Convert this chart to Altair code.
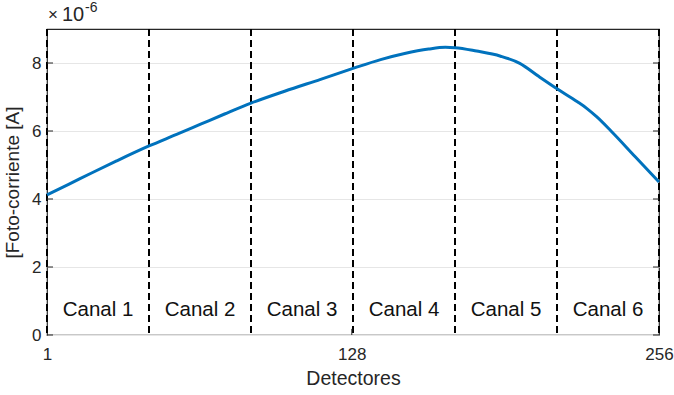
import altair as alt
import pandas as pd

# Photocurrent per detector (units of 1e-6 A)
detector = [1, 10, 20, 30, 43.5, 55, 65, 75, 86, 100, 115, 128.5, 140, 150, 160, 167,
            171, 180, 190, 198, 206, 214, 222, 226, 230, 236, 246, 256]
current = [4.12, 4.43, 4.78, 5.12, 5.56, 5.90, 6.20, 6.50, 6.82, 7.17, 7.52, 7.84, 8.10,
           8.28, 8.41, 8.46, 8.45, 8.35, 8.20, 7.99, 7.60, 7.22, 6.86, 6.66, 6.42, 6.00,
           5.25, 4.50]

# Channel boundaries and labels
boundaries = [1, 43.5, 86, 128.5, 171, 213.5, 256]
channels = ["Canal 1", "Canal 2", "Canal 3", "Canal 4", "Canal 5", "Canal 6"]
channel_centers = [(boundaries[i] + boundaries[i + 1]) / 2 for i in range(6)]
label_level = 0.75

x_ticks = [1, 128, 256]
y_ticks = [0, 2, 4, 6, 8]

FONT = "Liberation Sans"
TXT = "#262626"

curve_df = pd.DataFrame({"d": detector, "i": current})
bound_df = pd.DataFrame({"d": boundaries})
label_df = pd.DataFrame({"d": channel_centers, "i": [label_level] * 6, "name": channels})
ytick_df = pd.DataFrame({"y": y_ticks, "x0": [1] * 5, "x1": [3.5] * 5,
                         "r0": [253.5] * 5, "r1": [256] * 5})
xtick_df = pd.DataFrame({"x": [128], "y0": [0], "y1": [0.18]})

xs = alt.Scale(domain=[1, 256], nice=False, zero=False)
ys = alt.Scale(domain=[0, 9], nice=False)

x_axis = alt.Axis(values=x_ticks, title="Detectores", grid=False, ticks=False,
                  domain=False, labelPadding=11, labelFontSize=17, titleFontSize=19.5,
                  titlePadding=7, labelColor=TXT, titleColor=TXT, labelFont=FONT,
                  titleFont=FONT, titleFontWeight="normal", labelFlush=False,
                  labelOverlap=False, labelBound=False)
y_axis = alt.Axis(values=y_ticks, title="[Foto-corriente [A]", grid=True,
                  gridColor="#e6e6e6", gridWidth=1.2, ticks=False, domain=False,
                  labelPadding=6, labelFontSize=17, titleFontSize=19, titlePadding=9,
                  labelColor=TXT, titleColor=TXT, labelFont=FONT, titleFont=FONT,
                  titleFontWeight="normal")

base_axes = alt.Chart(curve_df).mark_line(opacity=0).encode(
    x=alt.X("d:Q", scale=xs, axis=x_axis),
    y=alt.Y("i:Q", scale=ys, axis=y_axis),
)

curve = alt.Chart(curve_df).mark_line(color="#0072BD", strokeWidth=3,
                                      interpolate="monotone").encode(
    x=alt.X("d:Q", scale=xs), y=alt.Y("i:Q", scale=ys))

dividers = alt.Chart(bound_df).mark_rule(color="black", strokeWidth=2,
                                         strokeDash=[7, 4]).encode(
    x=alt.X("d:Q", scale=xs))

labels = alt.Chart(label_df).mark_text(fontSize=20.5, font=FONT, color="#111111",
                                       baseline="middle").encode(
    x=alt.X("d:Q", scale=xs), y=alt.Y("i:Q", scale=ys), text="name:N")

ytick_l = alt.Chart(ytick_df).mark_rule(color=TXT, strokeWidth=1).encode(
    x=alt.X("x0:Q", scale=xs), x2="x1:Q", y=alt.Y("y:Q", scale=ys))
ytick_r = alt.Chart(ytick_df).mark_rule(color=TXT, strokeWidth=1).encode(
    x=alt.X("r0:Q", scale=xs), x2="r1:Q", y=alt.Y("y:Q", scale=ys))
xtick = alt.Chart(xtick_df).mark_rule(color=TXT, strokeWidth=1).encode(
    x=alt.X("x:Q", scale=xs), y=alt.Y("y0:Q", scale=ys), y2="y1:Q")

# Exponent annotation above the axis
exp_df = pd.DataFrame({"x": [1], "y": [9]})
exp_times = alt.Chart(exp_df).mark_text(text="×", fontSize=17, font=FONT, color=TXT,
                                        align="left", baseline="bottom", dx=1, dy=-5).encode(
    x=alt.X("x:Q", scale=xs), y=alt.Y("y:Q", scale=ys))
exp_base = alt.Chart(exp_df).mark_text(text="10", fontSize=20, font=FONT, color=TXT,
                                       align="left", baseline="bottom", dx=15, dy=-4).encode(
    x=alt.X("x:Q", scale=xs), y=alt.Y("y:Q", scale=ys))
exp_sup = alt.Chart(exp_df).mark_text(text="-6", fontSize=14, font=FONT, color=TXT,
                                      align="left", baseline="bottom", dx=38, dy=-14).encode(
    x=alt.X("x:Q", scale=xs), y=alt.Y("y:Q", scale=ys))

chart = alt.layer(base_axes, dividers, curve, labels, ytick_l, ytick_r, xtick,
                  exp_times, exp_base, exp_sup).properties(
    width=612, height=306,
    autosize=alt.AutoSizeParams(type="none"),
    padding={"left": 47, "top": 29, "right": 15, "bottom": 60},
    background="white",
).configure_view(stroke="#262626", strokeWidth=1.2)

chart.save("out.html", embed_options={"renderer": "svg", "actions": False})
